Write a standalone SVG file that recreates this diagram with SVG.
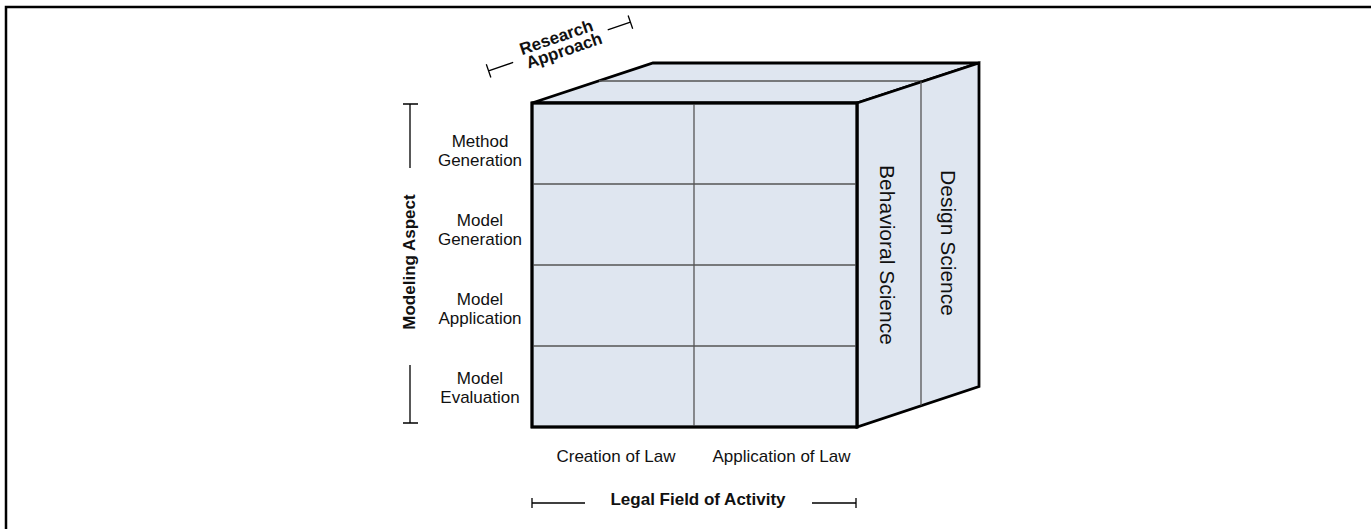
<svg xmlns="http://www.w3.org/2000/svg" width="1371" height="529" viewBox="0 0 1371 529">
<style>
.face{fill:#dfe6f0;stroke:#000;stroke-width:2.8;stroke-linejoin:miter}
.grid{stroke:#555;stroke-width:1.3;fill:none}
.br{stroke:#000;stroke-width:1.3;fill:none}
.lbl{font-family:"Liberation Sans",Arial,sans-serif;font-size:17px;fill:#111;text-anchor:middle}
.b{font-weight:bold}
.big{font-family:"Liberation Sans",Arial,sans-serif;font-size:21px;fill:#111;text-anchor:middle}
</style>
<rect width="1371" height="529" fill="#fff"/>
<path d="M6,529 V7 H1371" fill="none" stroke="#000" stroke-width="2.5"/>
<g id="cube">
  <g id="top-face">
    <polygon class="face" points="532,103 653,63 979,63 857,103"/>
    <line class="grid" x1="599" y1="81" x2="921" y2="81"/>
  </g>
  <g id="side-face">
    <polygon class="face" points="857,103 979,63 979,386.5 857,427"/>
    <line class="grid" x1="921" y1="81.5" x2="921" y2="405.5"/>
    <text class="big" transform="translate(880,255) rotate(90)">Behavioral Science</text>
    <text class="big" transform="translate(941,243) rotate(90)">Design Science</text>
  </g>
  <g id="front-face">
    <rect class="face" x="532" y="103" width="325" height="324"/>
    <line class="grid" x1="694" y1="104.5" x2="694" y2="425.5"/>
    <line class="grid" x1="533.5" y1="184" x2="855.5" y2="184"/>
    <line class="grid" x1="533.5" y1="265" x2="855.5" y2="265"/>
    <line class="grid" x1="533.5" y1="346" x2="855.5" y2="346"/>
    <rect x="532" y="103" width="325" height="324" fill="none" stroke="#000" stroke-width="2.8"/>
  </g>
</g>
<g id="row-labels">
  <g id="method-generation"><text class="lbl" x="480" y="147">Method</text><text class="lbl" x="480" y="166">Generation</text></g>
  <g id="model-generation"><text class="lbl" x="480" y="226">Model</text><text class="lbl" x="480" y="245">Generation</text></g>
  <g id="model-application"><text class="lbl" x="480" y="305">Model</text><text class="lbl" x="480" y="324">Application</text></g>
  <g id="model-evaluation"><text class="lbl" x="480" y="384">Model</text><text class="lbl" x="480" y="403">Evaluation</text></g>
</g>
<g id="column-labels">
  <text class="lbl" x="616" y="462">Creation of Law</text>
  <text class="lbl" x="781.5" y="462">Application of Law</text>
</g>
<g id="modeling-aspect">
  <path class="br" d="M403,104 H418 M410,104 V168 M410,365 V423 M403,423 H418"/>
  <text class="lbl b" transform="translate(415,262) rotate(-90)">Modeling Aspect</text>
</g>
<g id="legal-field">
  <path class="br" d="M532,498 V508 M532,503 H585 M812,503 H856 M856,498 V508"/>
  <text class="lbl b" x="698" y="505">Legal Field of Activity</text>
</g>
<g id="research-approach" transform="translate(559.5,46.5) rotate(-19)">
  <path class="br" d="M-75,-7 V7 M-75,0 H-49 M51,0 H75 M75,-7 V7"/>
  <text class="lbl b" x="0" y="-4">Research</text>
  <text class="lbl b" x="3" y="11">Approach</text>
</g>
</svg>
